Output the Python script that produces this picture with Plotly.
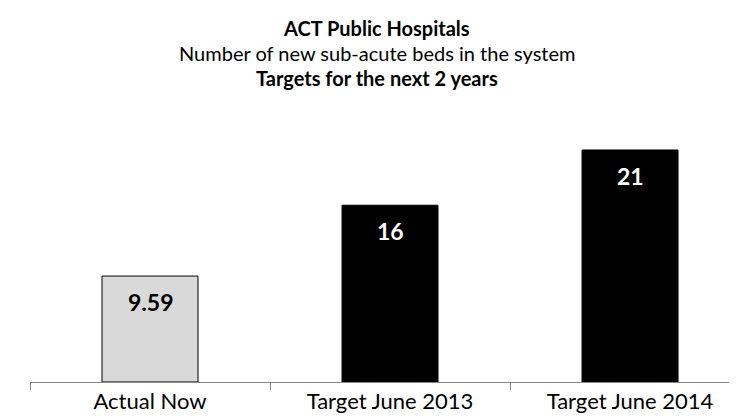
import plotly.graph_objects as go

categories = ["Actual Now", "Target June 2013", "Target June 2014"]
values = [9.59, 16, 21]
value_labels = ["9.59", "16", "21"]
bar_colors = ["#d9d9d9", "#000000", "#000000"]
label_colors = ["#000000", "#ffffff", "#ffffff"]
title_lines = ["<b>ACT Public Hospitals</b>",
               "Number of new sub-acute beds in the system",
               "<b>Targets for the next 2 years</b>"]

W, H = 737, 418
T, B, L, R = 100, 44, 22, 0
plot_h = H - T - B
FONT = "Lato, Carlito, Calibri, sans-serif"

fig = go.Figure()
fig.add_trace(go.Bar(
    x=categories, y=values, width=0.4,
    marker=dict(color=bar_colors, line=dict(color="#000000", width=1)),
    hoverinfo="skip",
))

for c, v, t, col in zip(categories, values, value_labels, label_colors):
    fig.add_annotation(x=c, y=v, xref="x", yref="y", text="<b>%s</b>" % t,
                       showarrow=False, yanchor="middle", yshift=-26,
                       font=dict(family=FONT, size=23, color=col))

title_y_px = [20, 45, 70]
for line, ypx in zip(title_lines, title_y_px):
    fig.add_annotation(x=(368.5 - L) / (W - L - R),
                       y=1 + (T - ypx) / plot_h, xref="paper", yref="paper",
                       text=line, showarrow=False, yanchor="middle",
                       font=dict(family=FONT, size=20, color="#000000"))

fig.update_layout(
    width=W, height=H,
    margin=dict(l=L, r=R, t=T, b=B, pad=0),
    paper_bgcolor="white", plot_bgcolor="white",
    showlegend=False,
    font=dict(family=FONT, color="#000000"),
    xaxis=dict(
        type="category", range=[-0.5, 2.479],
        showline=True, linecolor="#868686", linewidth=1,
        ticks="outside", tickson="boundaries", ticklen=7, tickcolor="#868686",
        tickfont=dict(family=FONT, size=22, color="#000000"),
        showgrid=False, zeroline=False, fixedrange=True,
    ),
    yaxis=dict(range=[0, 24.8], visible=False, showgrid=False,
               zeroline=False, fixedrange=True),
)

fig.write_html("out.html")
